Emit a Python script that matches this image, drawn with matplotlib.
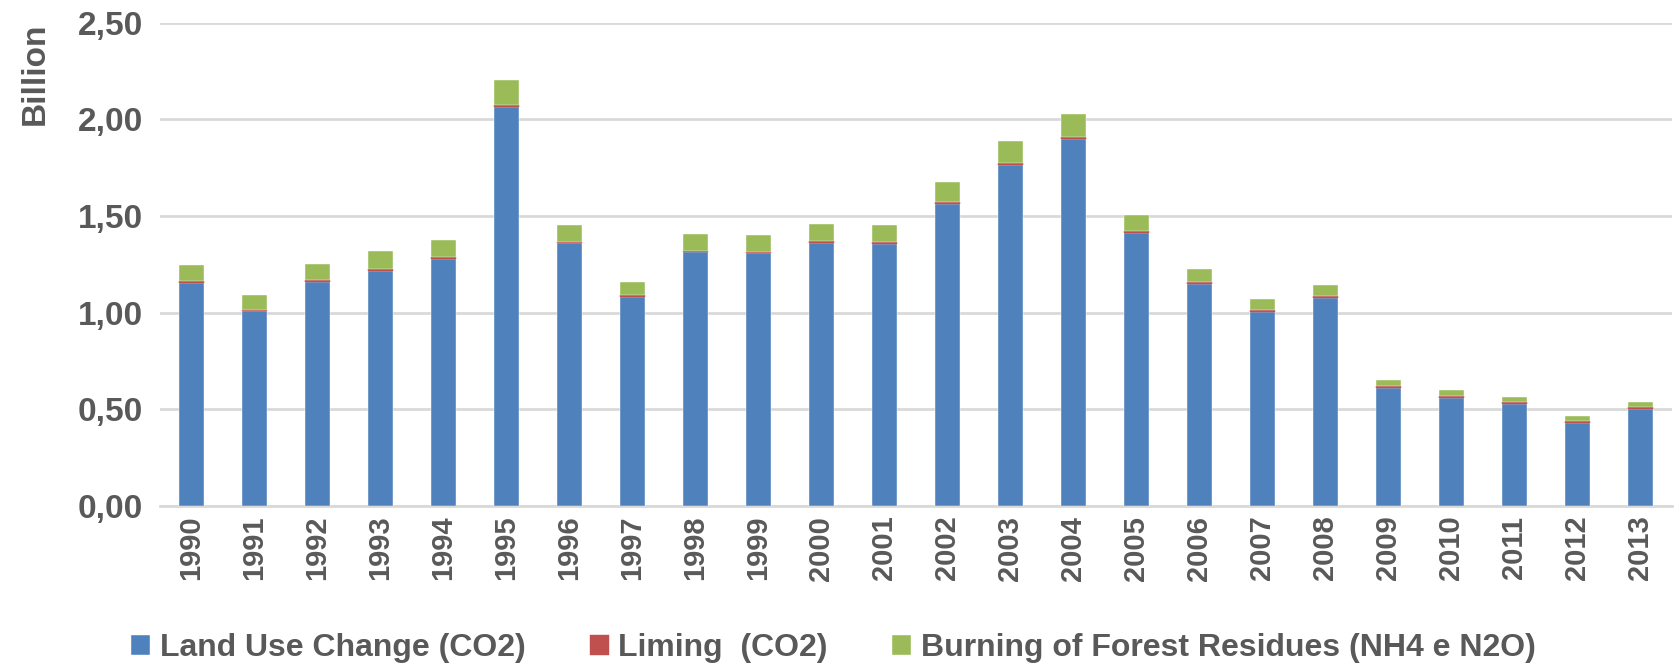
import numpy as np
import matplotlib.pyplot as plt
from matplotlib.ticker import FuncFormatter

years = [str(y) for y in range(1990, 2014)]
land_use = [1.154, 1.008, 1.160, 1.218, 1.277, 2.067, 1.360, 1.082, 1.312, 1.308, 1.360, 1.358,
            1.565, 1.767, 1.898, 1.413, 1.151, 1.006, 1.075, 0.613, 0.559, 0.528, 0.428, 0.500]
liming = [0.008, 0.006, 0.008, 0.009, 0.009, 0.008, 0.008, 0.009, 0.008, 0.008, 0.009, 0.009,
          0.009, 0.010, 0.012, 0.008, 0.008, 0.008, 0.010, 0.009, 0.009, 0.010, 0.012, 0.014]
burning = [0.084, 0.077, 0.083, 0.091, 0.091, 0.128, 0.085, 0.070, 0.086, 0.084, 0.089, 0.086,
           0.101, 0.111, 0.119, 0.084, 0.066, 0.056, 0.061, 0.032, 0.031, 0.028, 0.024, 0.026]
labels = ["Land Use Change (CO2)", "Liming  (CO2)", "Burning of Forest Residues (NH4 e N2O)"]

plt.rcParams['font.family'] = ['Liberation Sans', 'DejaVu Sans']
grey = "#595959"

fig = plt.figure(figsize=(16.75, 6.72), dpi=100)
ax = fig.add_axes([0.0955, 0.247, 0.9025, 0.719])

x = np.arange(len(years))
w = 0.40
b1 = np.array(land_use)
b2 = b1 + np.array(liming)
ax.bar(x, land_use, w, color="#4F81BD", edgecolor="white", linewidth=0.3, label=labels[0], zorder=3)
ax.bar(x, liming, w, bottom=b1, color="#C0504D", edgecolor="#C0504D", linewidth=0.3, label=labels[1], zorder=3)
ax.bar(x, burning, w, bottom=b2, color="#9BBB59", edgecolor="white", linewidth=0.3, label=labels[2], zorder=3)

ax.set_xlim(-0.5, len(years) - 0.5)
ax.set_ylim(0, 2.5)
ax.set_yticks(np.arange(0, 2.51, 0.5))
ax.yaxis.set_major_formatter(FuncFormatter(lambda v, p: f"{v:.2f}".replace(".", ",")))
ax.grid(axis="y", color="#D9D9D9", linewidth=2, zorder=0)
for s in ["top", "right", "left"]:
    ax.spines[s].set_visible(False)
ax.spines["bottom"].set_color("#D9D9D9")
ax.spines["bottom"].set_linewidth(2)
ax.tick_params(axis="y", length=0, labelsize=24, labelcolor=grey, pad=12)
ax.tick_params(axis="x", length=0, labelsize=21, labelcolor=grey, pad=7)
ax.set_xticks(x)
ax.set_xticklabels(years, rotation=90, fontweight="bold")
for t in ax.get_yticklabels():
    t.set_fontweight("bold")
ax.set_ylabel("Billion", fontsize=24, fontweight="bold", color=grey, loc="top", labelpad=20)

leg = ax.legend(loc="lower left", bbox_to_anchor=(-0.038, -0.385), ncol=3, frameon=False,
                fontsize=23, handlelength=0.6, handleheight=0.6, handletextpad=0.3,
                columnspacing=2.0)
for t in leg.get_texts():
    t.set_color(grey)
    t.set_fontweight("bold")

fig.savefig("out.png", dpi=100)
